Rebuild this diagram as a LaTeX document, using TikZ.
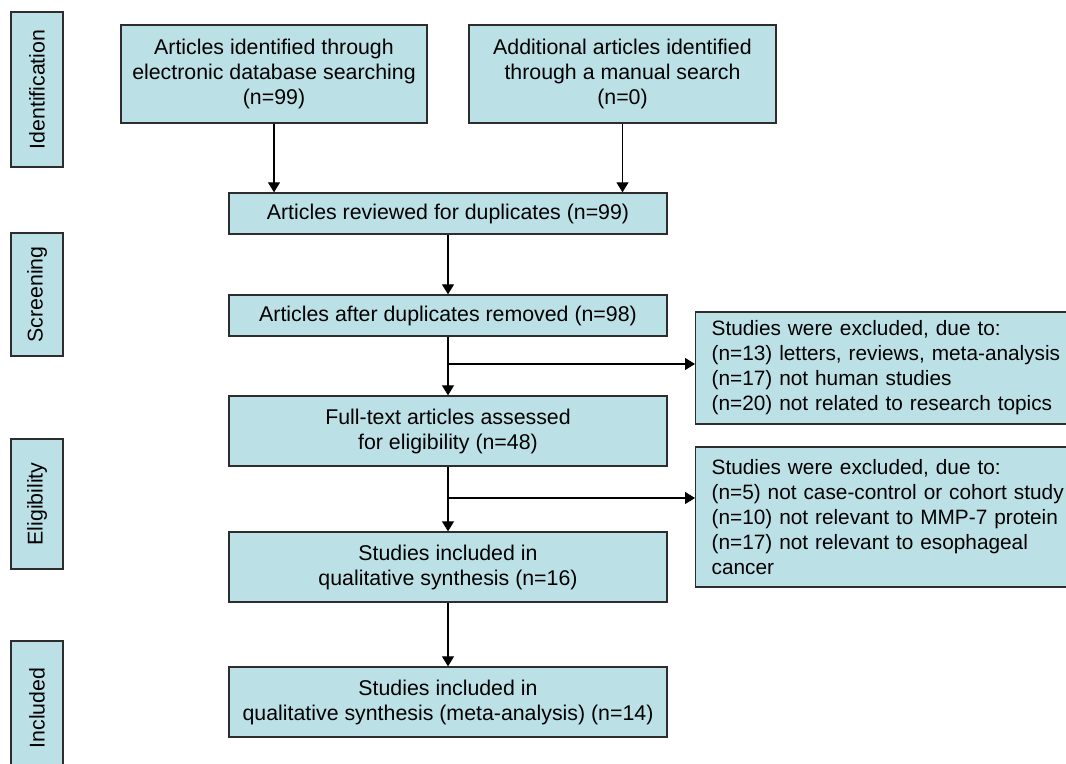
\documentclass[tikz,border=0pt]{standalone}
\usepackage{fontspec}
\setmainfont{Liberation Sans}
\usetikzlibrary{arrows.meta,calc}
\definecolor{boxfill}{RGB}{187,224,230}
\definecolor{boxline}{RGB}{45,45,45}
\begin{document}
\begin{tikzpicture}[x=0.75pt,y=-0.75pt,
  box/.style={draw=boxline,fill=boxfill,line width=1pt,inner sep=0pt,align=center,
    font=\fontsize{16pt}{18.75pt}\selectfont},
  side/.style={box,rotate=90,minimum height=39pt},
  excl/.style={draw=boxline,fill=boxfill,line width=1pt,inner xsep=12pt,inner ysep=0pt,
    anchor=west,text width=300pt,align=left,font=\fontsize{15.6pt}{18.75pt}\selectfont},
  arr/.style={line width=0.8pt,-{Triangle[length=7.5pt,width=9pt]}}]
\useasboundingbox (0,0) rectangle (1066,763);
\clip (0,0) rectangle (1066,763);
% side labels
\node[side,minimum width=116.25pt] (ident) at (37,89.5) {Identification};
\node[side,minimum width=92.25pt] (screen) at (37,294.5) {Screening};
\node[side,minimum width=97.5pt] (elig) at (37,504) {Eligibility};
\node[side,minimum width=100.5pt] (incl) at (37,708) {Included};
% main boxes
\node[box,minimum width=229.5pt,minimum height=73.5pt] (b1) at (274,74)
  {Articles identified through\\electronic database searching\\(n=99)};
\node[box,minimum width=230.25pt,minimum height=73.5pt] (b2) at (622.5,74)
  {Additional articles identified\\through a manual search\\(n=0)};
\node[box,minimum width=328.5pt,minimum height=30.75pt] (b3) at (448,213.5)
  {Articles reviewed for duplicates (n=99)};
\node[box,minimum width=328.5pt,minimum height=30.75pt] (b4) at (448,315.5)
  {Articles after duplicates removed (n=98)};
\node[box,minimum width=328.5pt,minimum height=52.5pt] (b5) at (448,431)
  {Full-text articles assessed\\for eligibility (n=48)};
\node[box,minimum width=328.5pt,minimum height=52.5pt] (b6) at (448,567)
  {Studies included in\\qualitative synthesis (n=16)};
\node[box,minimum width=328.5pt,minimum height=52.5pt] (b7) at (448,702)
  {Studies included in\\qualitative synthesis (meta-analysis) (n=14)};
% exclusion boxes
\node[excl,minimum height=84pt] (r1) at (695,368)
  {Studies were excluded, due to:\\(n=13) letters, reviews, meta-analysis\\(n=17) not human studies\\(n=20) not related to research topics};
\node[excl,minimum height=105pt] (r2) at (695,517)
  {Studies were excluded, due to:\\(n=5) not case-control or cohort study\\(n=10) not relevant to MMP-7 protein\\(n=17) not relevant to esophageal\\cancer};
% connectors
\draw[arr] (b1.south) -- (b1.south |- b3.north);
\draw[arr] (b2.south) -- (b2.south |- b3.north);
\draw[arr] (b3) -- (b4);
\draw[arr] (b4) -- (b5);
\draw[arr] (b5) -- (b6);
\draw[arr] (b6) -- (b7);
\coordinate (br1) at (448,364);
\coordinate (br2) at (448,498);
\draw[arr] (br1) -- (br1 -| r1.west);
\draw[arr] (br2) -- (br2 -| r2.west);
\end{tikzpicture}
\end{document}
